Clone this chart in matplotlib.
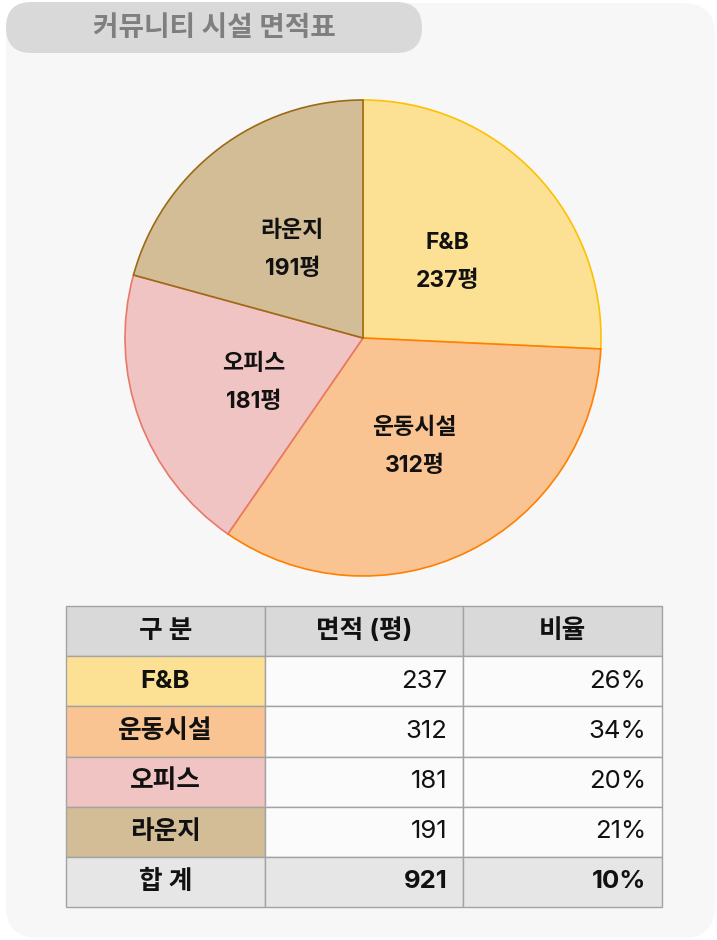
import matplotlib
matplotlib.use("Agg")
import matplotlib.pyplot as plt
from matplotlib.patches import FancyBboxPatch

plt.rcParams['font.family'] = ['Inter', 'Noto Sans CJK KR', 'DejaVu Sans']

# ---- data ----
categories = ["F&B", "운동시설", "오피스", "라운지"]
areas = [237, 312, 181, 191]
ratio_labels = ["26%", "34%", "20%", "21%"]
total_label = "합 계"
total_area = 921
total_ratio = "10%"
header = ["구 분", "면적 (평)", "비율"]
title = "커뮤니티 시설 면적표"

fill_colors = ["#fce195", "#f9c392", "#f0c4c2", "#d3bd97"]
edge_colors = ["#ffc000", "#ff8000", "#e8786a", "#9c6a14"]

W, H = 717, 940
fig = plt.figure(figsize=(W / 100, H / 100), dpi=100)
fig.patch.set_facecolor("white")

# background axes in pixel coords
bg = fig.add_axes([0, 0, 1, 1])
bg.set_xlim(0, W)
bg.set_ylim(H, 0)
bg.axis("off")
bg.add_patch(FancyBboxPatch((6, 3), W - 6 - 2, H - 3 - 2,
                            boxstyle="round,pad=0,rounding_size=32",
                            fc="#f7f7f7", ec="none"))
bg.add_patch(FancyBboxPatch((6, 2), 416, 51,
                            boxstyle="round,pad=0,rounding_size=25.5",
                            fc="#d9d9d9", ec="none"))
bg.text(214, 29, title, ha="center", va="center", fontsize=20,
        fontweight="bold", color="#7f7f7f")

# pie
cx, cy, r = 363, 338, 238
pie_ax = fig.add_axes([(cx - r) / W, (H - cy - r) / H, 2 * r / W, 2 * r / H])
labels = [f"{c}\n{v}평" for c, v in zip(categories, areas)]
wedges, texts = pie_ax.pie(areas, labels=labels, startangle=90, counterclock=False,
                           colors=fill_colors, labeldistance=0.49, radius=1,
                           wedgeprops=dict(linewidth=1.2),
                           textprops=dict(fontsize=16.5, fontweight="bold",
                                          ha="center", va="center",
                                          linespacing=1.95, color="#111111"))
for w, ec in zip(wedges, edge_colors):
    w.set_edgecolor(ec)
for t in texts:
    x, y = t.get_position()
    t.set_position((x, y - 0.02))
pie_ax.set_xlim(-1, 1)
pie_ax.set_ylim(-1, 1)
pie_ax.set_aspect("equal")
pie_ax.axis("off")

# table
tx0, ty0, tx1, ty1 = 66, 606, 662, 907
tab_ax = fig.add_axes([tx0 / W, (H - ty1) / H, (tx1 - tx0) / W, (ty1 - ty0) / H])
tab_ax.axis("off")
cell_text = [header]
for c, a, p in zip(categories, areas, ratio_labels):
    cell_text.append([c, str(a), p])
cell_text.append([total_label, str(total_area), total_ratio])
cell_colours = [["#d9d9d9"] * 3]
for fc in fill_colors:
    cell_colours.append([fc, "#fbfbfb", "#fbfbfb"])
cell_colours.append(["#e6e6e6"] * 3)
tbl = tab_ax.table(cellText=cell_text, cellColours=cell_colours,
                   bbox=[0, 0, 1, 1], cellLoc="center")
tbl.auto_set_font_size(False)
nrows = len(cell_text)
for (ri, ci), cell in tbl.get_celld().items():
    cell.set_edgecolor("#a3a3a3")
    cell.set_linewidth(1.0)
    t = cell.get_text()
    t.set_fontsize(18.5)
    t.set_color("#111111")
    bold = ci == 0 or ri == 0 or ri == nrows - 1
    t.set_fontweight("bold" if bold else "normal")
    if ri > 0 and ci > 0:
        cell._loc = "right"
        cell.PAD = 0.08
        t.set_horizontalalignment("right")

fig.savefig("out.png", dpi=100, facecolor="white")
